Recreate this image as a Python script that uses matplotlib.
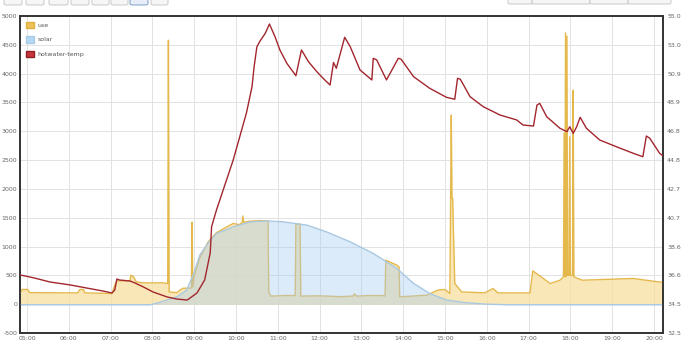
import pandas as pd
import matplotlib.pyplot as plt
from matplotlib.patches import Patch, FancyBboxPatch

# ---- data ----
use_time = ["04:50", "04:53", "05:01", "05:04", "06:13", "06:16", "06:21", "06:23",
            "07:02", "07:06", "07:09", "07:28", "07:29", "07:33", "07:37", "07:47",
            "08:16", "08:21", "08:22", "08:23", "08:24", "08:35", "08:40", "08:44",
            "08:56", "08:57", "08:58", "09:00", "09:08", "09:20", "09:32", "09:45",
            "09:56", "10:05", "10:09", "10:10", "10:11", "10:20", "10:35", "10:46",
            "10:47", "10:50", "11:10", "11:25", "11:26", "11:27", "11:32", "11:33",
            "12:00", "12:30", "12:48", "12:50", "12:53", "13:10", "13:30", "13:34",
            "13:35", "13:51", "13:54", "13:55", "14:34", "14:50", "15:00", "15:07",
            "15:09", "15:10", "15:11", "15:14", "15:24", "15:57", "16:09", "16:16",
            "17:02", "17:06", "17:21", "17:31", "17:45", "17:50", "17:51", "17:52",
            "17:53", "17:54", "17:55", "17:56", "17:58", "17:59", "18:00", "18:03",
            "18:04", "18:05", "18:17", "19:30", "20:06", "20:13"]
use_vals = [190, 255, 255, 200, 196, 255, 255, 196,
            185, 330, 404, 404, 503, 474, 387, 370,
            370, 359, 360, 4580, 213, 200, 246, 276,
            280, 1423, 300, 480, 800, 1080, 1240, 1330,
            1400, 1380, 1420, 1530, 1420, 1440, 1450, 1445,
            213, 140, 150, 150, 1390, 1390, 1390, 140,
            145, 130, 140, 180, 140, 150, 150, 140,
            763, 677, 647, 127, 156, 246, 255, 185,
            3280, 1834, 1834, 359, 213, 196, 272, 196,
            196, 578, 446, 359, 416, 474, 2967, 474,
            4707, 480, 4650, 500, 500, 2903, 500, 500,
            3713, 474, 416, 446, 387, 380]

solar_time = ["04:50", "07:57", "08:10", "08:20", "08:35", "08:49", "08:59", "09:08",
              "09:20", "09:32", "09:56", "10:20", "10:44", "11:08", "11:42", "12:10",
              "12:44", "13:17", "13:51", "14:15", "14:38", "15:02", "15:30", "16:00",
              "16:30", "20:13"]
solar_vals = [-10, -10, 30, 70, 127, 243, 520, 850,
              1060, 1227, 1340, 1428, 1445, 1428, 1371, 1254,
              1081, 880, 619, 359, 185, 73, 25, 0,
              -10, -10]

temp_time = ["04:50", "04:57", "05:11", "05:33", "06:02", "06:26", "06:49", "07:02",
             "07:06", "07:09", "07:13", "07:28", "07:35", "07:47", "08:01", "08:21",
             "08:35", "08:50", "08:54", "09:04", "09:15", "09:23", "09:25", "09:32",
             "09:56", "10:15", "10:23", "10:26", "10:30", "10:34", "10:42", "10:48",
             "10:56", "11:03", "11:13", "11:26", "11:34", "11:44", "11:56", "12:05",
             "12:15", "12:20", "12:24", "12:36", "12:44", "12:58", "13:15", "13:17",
             "13:22", "13:36", "13:53", "13:57", "14:15", "14:38", "15:02", "15:14",
             "15:18", "15:22", "15:36", "15:55", "16:19", "16:43", "16:52", "17:07",
             "17:12", "17:16", "17:26", "17:45", "17:55", "17:59", "18:04", "18:09",
             "18:14", "18:23", "18:42", "19:06", "19:30", "19:44", "19:49", "19:54",
             "20:08", "20:13"]
temp_vals = [36.62, 36.55, 36.40, 36.12, 35.91, 35.69, 35.48, 35.34,
             35.55, 36.33, 36.26, 36.19, 36.05, 35.77, 35.41, 35.06,
             34.91, 34.84, 34.98, 35.34, 36.26, 38.18, 40.05, 41.23,
             44.78, 48.12, 49.98, 51.40, 52.82, 53.18, 53.77, 54.43,
             53.53, 52.59, 51.64, 50.76, 52.59, 51.76, 51.05, 50.58,
             50.10, 51.70, 51.29, 53.49, 52.82, 51.17, 50.46, 52.00,
             51.88, 50.46, 52.00, 51.93, 50.69, 49.87, 49.23, 49.09,
             50.58, 50.51, 49.27, 48.56, 47.97, 47.62, 47.26, 47.19,
             48.68, 48.80, 47.85, 47.03, 46.79, 47.14, 46.67, 47.14,
             47.81, 47.03, 46.20, 45.72, 45.26, 45.01, 46.48, 46.32,
             45.26, 45.06]

left_ticks = [-500, 0, 500, 1000, 1500, 2000, 2500, 3000, 3500, 4000, 4500, 5000]
right_labels = ["32.5", "34.5", "36.6", "38.6", "40.7", "42.7", "44.8", "46.8",
                "48.9", "50.9", "53.0", "55.0"]
hour_labels = ["05:00", "06:00", "07:00", "08:00", "09:00", "10:00", "11:00", "12:00",
               "13:00", "14:00", "15:00", "16:00", "17:00", "18:00", "19:00", "20:00"]


def to_hours(times):
    t = pd.to_datetime(pd.Series(times), format="%H:%M")
    return (t.dt.hour + t.dt.minute / 60.0).values


use_t = to_hours(use_time)
solar_t = to_hours(solar_time)
temp_t = to_hours(temp_time)
hour_t = to_hours(hour_labels)

# ---- figure ----
fig = plt.figure(figsize=(6.9, 3.53), dpi=100)
ax = fig.add_axes([20 / 690, 1 - 333 / 353, 643 / 690, 317 / 353])

tick_color = "#666666"
grid_color = "#e2e2e2"

ax.fill_between(use_t, 0, use_vals, color="#f7e0a0", alpha=0.75, lw=0, zorder=2)
ax.plot(use_t, use_vals, color="#e5b84c", lw=1.0, zorder=3)
ax.fill_between(solar_t, 0, solar_vals, color="#a7cdf2", alpha=0.4, lw=0, zorder=4)
ax.plot(solar_t, solar_vals, color="#a9c8e2", lw=1.0, zorder=5)

ax.set_xlim(4.833, 20.215)
ax.set_ylim(-500, 5000)
ax.set_yticks(left_ticks)
ax.set_yticklabels([str(v) for v in left_ticks])
ax.set_xticks(hour_t)
ax.set_xticklabels(hour_labels)
ax.grid(True, color=grid_color, lw=0.7, zorder=0)
ax.set_axisbelow(True)
ax.tick_params(length=0, labelsize=4.5, colors=tick_color, pad=2)

ax2 = ax.twinx()
ax2.plot(temp_t, temp_vals, color="#a3262e", lw=1.0, zorder=6)
ax2.set_ylim(32.5, 55.0)
ax2.set_yticks([32.5 + i * 22.5 / 11 for i in range(12)])
ax2.set_yticklabels(right_labels)
ax2.tick_params(length=0, labelsize=4.5, colors=tick_color, pad=3)

for a in (ax, ax2):
    for s in a.spines.values():
        s.set_color("#333333")
        s.set_linewidth(1.2)

handles = [Patch(facecolor="#ecc15a", edgecolor="#e0b040", label="use"),
           Patch(facecolor="#b5d8f2", edgecolor="#a9cbe6", label="solar"),
           Patch(facecolor="#c8353d", edgecolor="#8e1f25", label="hotwater-temp")]
leg = ax2.legend(handles=handles, loc="upper left", frameon=False, fontsize=4.5,
                 handlelength=1.4, handleheight=1.2, handletextpad=0.5,
                 labelspacing=1.3, borderaxespad=0.5)
for txt in leg.get_texts():
    txt.set_color("#555555")

# toolbar buttons cut off at the top
left_buttons = [(4, 22), (26, 44), (49, 68), (71, 89), (92, 109), (111, 128), (130, 148), (151, 168)]
for i, (x0, x1) in enumerate(left_buttons):
    sel = i == 6
    fig.patches.append(FancyBboxPatch(
        (x0 / 690, 1 - 5 / 353), (x1 - x0) / 690, 12 / 353,
        boxstyle="round,pad=0,rounding_size=0.004", transform=fig.transFigure,
        facecolor="#e8eef7" if sel else "#f6f6f6",
        edgecolor="#7f9fc8" if sel else "#c8c8c8", lw=0.7))
for x0, x1 in [(508, 532), (532, 590), (590, 628), (628, 671)]:
    fig.patches.append(FancyBboxPatch(
        (x0 / 690, 1 - 4 / 353), (x1 - x0) / 690, 12 / 353,
        boxstyle="round,pad=0,rounding_size=0.003", transform=fig.transFigure,
        facecolor="#f6f6f6", edgecolor="#c8c8c8", lw=0.7))

fig.savefig("out.png", dpi=100)
